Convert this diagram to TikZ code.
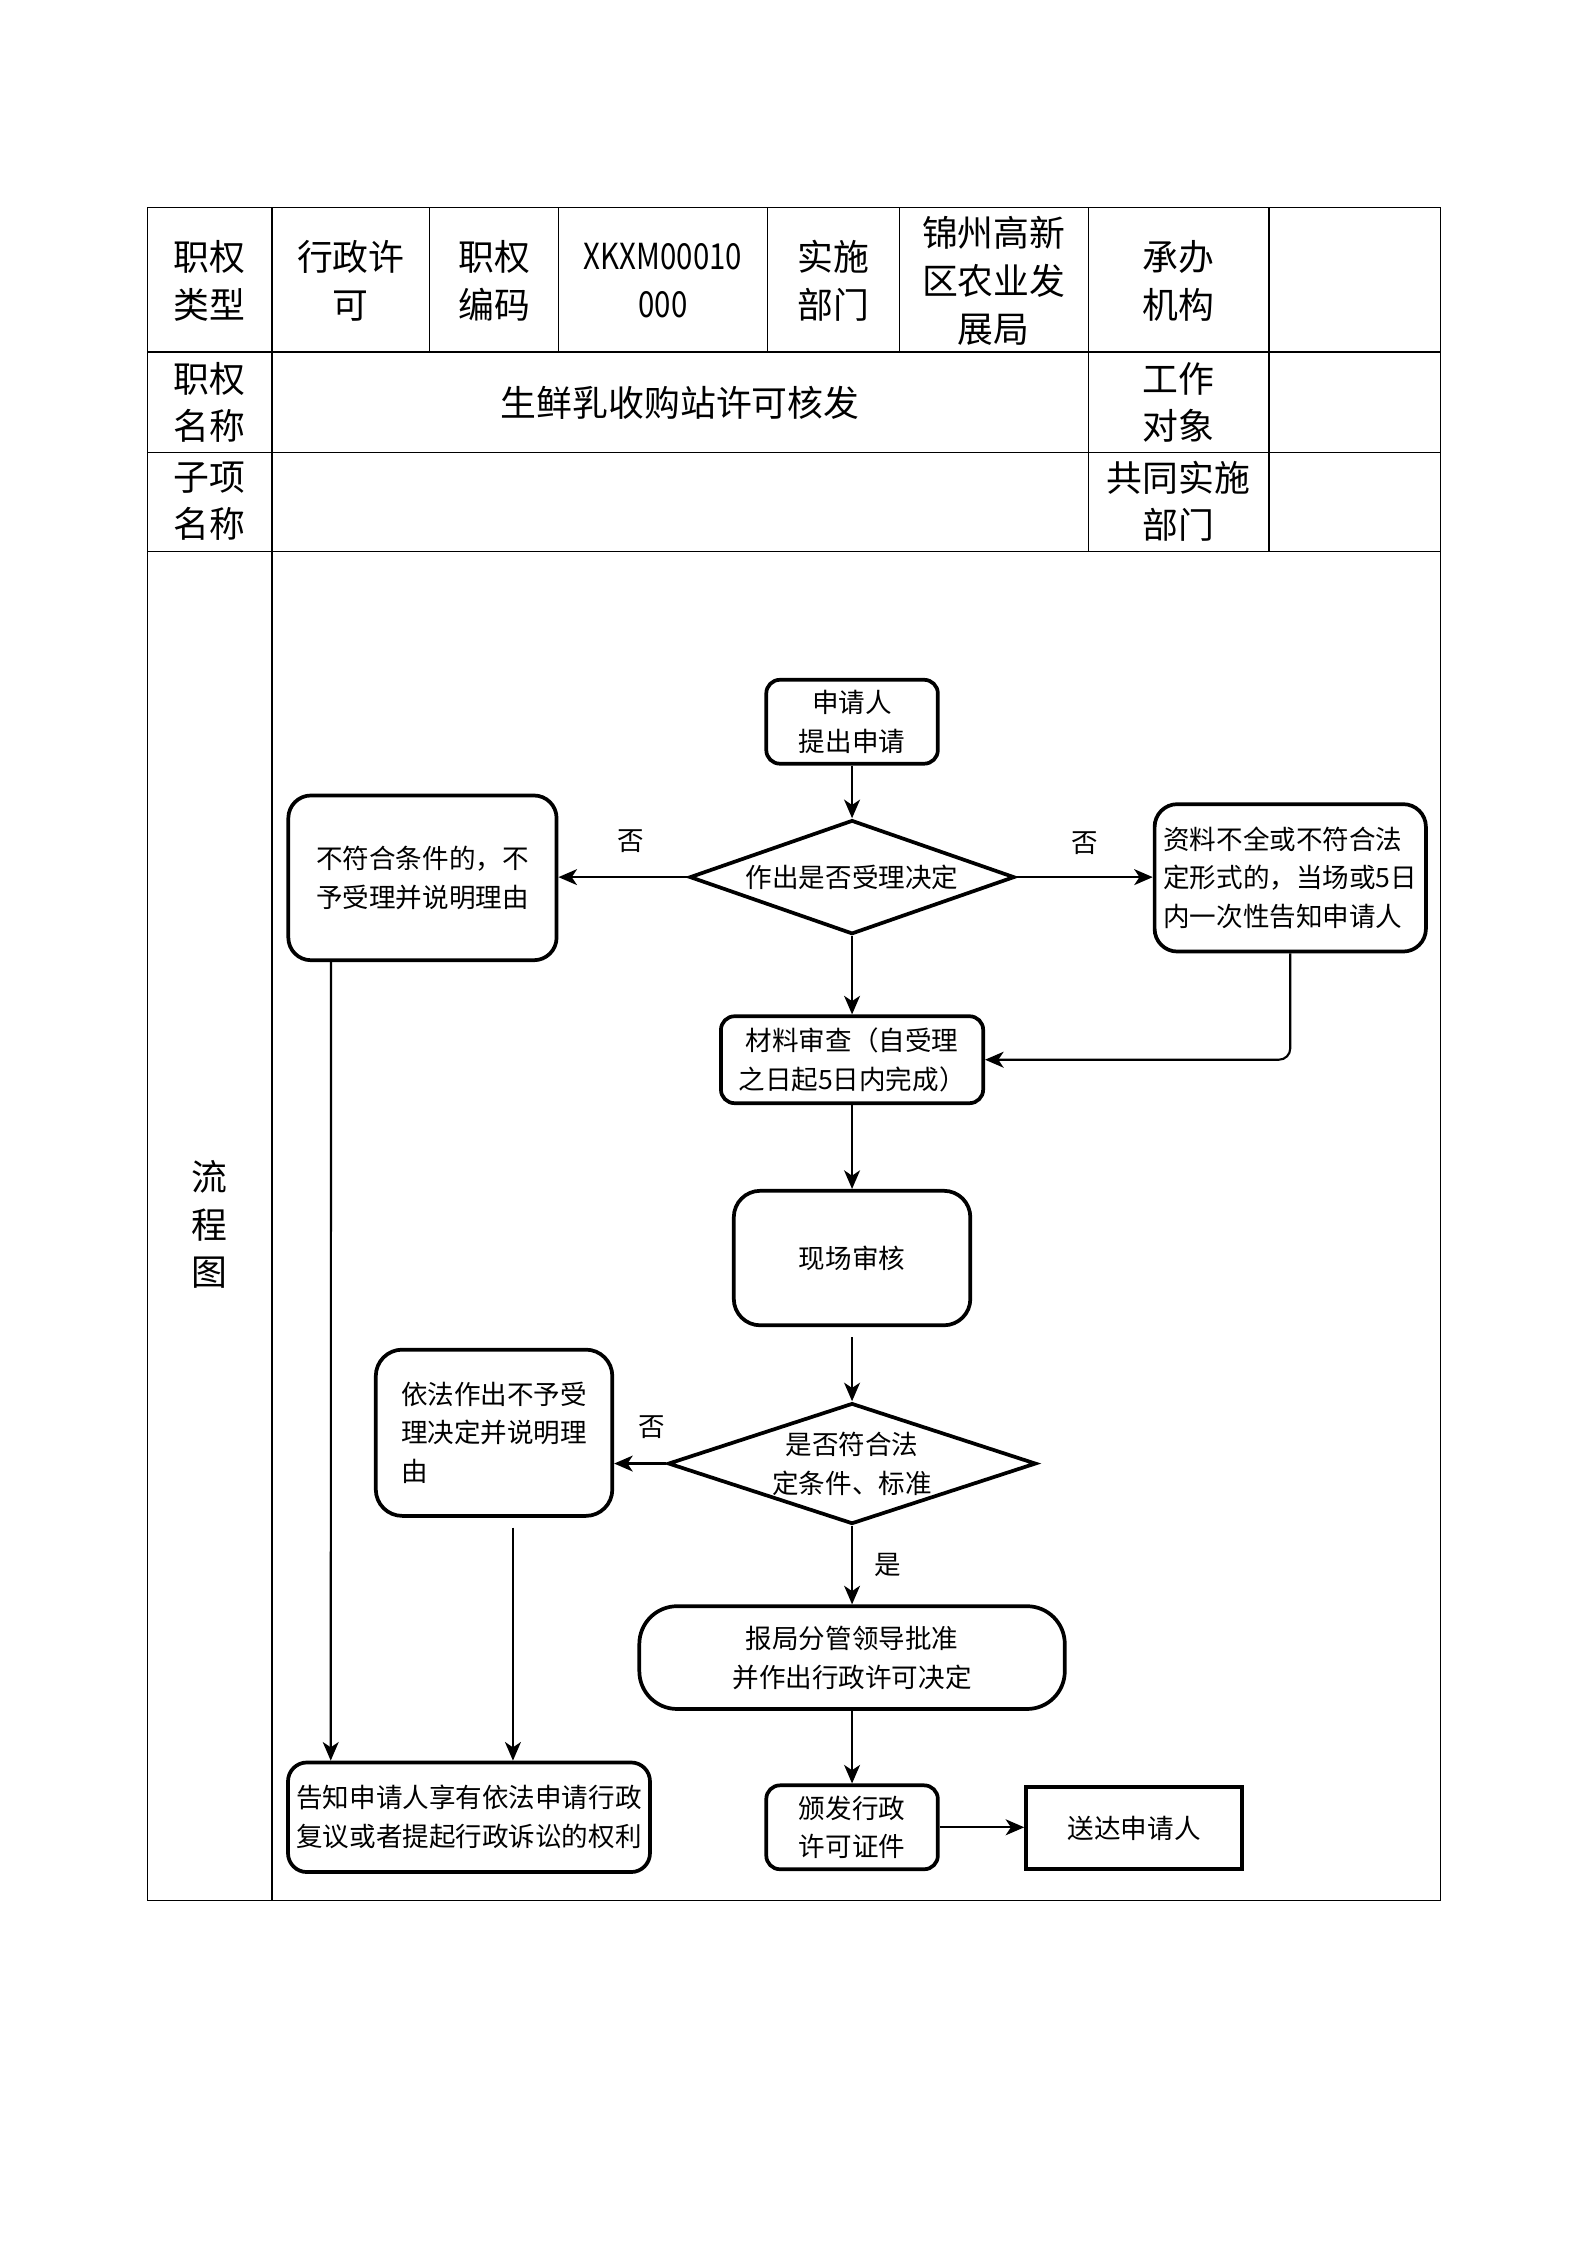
\documentclass[tikz,border=0pt]{standalone}
\usepackage{fontspec}
\setmainfont{Noto Sans CJK SC}
\usetikzlibrary{shapes.geometric,arrows.meta}

\begin{document}
\begin{tikzpicture}[x=0.1895mm, y=-0.1895mm,
  tab/.style={line width=0.6pt},
  cell/.style={font=\fontsize{13.5}{18}\selectfont, align=center, inner sep=0pt},
  box/.style={draw, line width=1.4pt, rounded corners=2.2mm, align=center, inner sep=0pt,
    font=\fontsize{10}{14.6}\selectfont},
  choice/.style={draw, diamond, line width=1.4pt, align=center, inner sep=0pt,
    font=\fontsize{10}{14.6}\selectfont},
  line/.style={line width=0.8pt, -{Stealth[length=7pt,width=6pt,inset=2pt]}},
  tag/.style={font=\fontsize{10}{12}\selectfont, inner sep=0pt}
  ]
  \useasboundingbox[fill=white] (0,0) rectangle (1108.3,1567.7);

  \draw[tab] (103,145) rectangle (1006,1327);
  \foreach \y in {246,316,385} \draw[tab] (103,\y) -- (1006,\y);
  \foreach \x in {300,390,536,628} \draw[tab] (\x,145) -- (\x,246);
  \foreach \x in {760,886} \draw[tab] (\x,145) -- (\x,385);
  \draw[tab] (190,145) -- (190,1327);

  \node[cell] (kind)   at (146.5,196) {职权\\类型};
  \node[cell] (kindv)  at (245,196)   {行政许\\可};
  \node[cell] (code)   at (345,196)   {职权\\编码};
  \node[cell] (codev)  at (463,196)   {\addfontfeatures{FakeStretch=0.82}XKXM00010\\\addfontfeatures{FakeStretch=0.82}000};
  \node[cell] (dept)   at (582,196)   {实施\\部门};
  \node[cell] (deptv)  at (694,196)   {锦州高新\\区农业发\\展局};
  \node[cell] (org)    at (823,196)   {承办\\机构};
  \node[cell] (name)   at (146.5,281) {职权\\名称};
  \node[cell] (namev)  at (475,281)   {生鲜乳收购站许可核发};
  \node[cell] (target) at (823,281)   {工作\\对象};
  \node[cell] (sub)    at (146.5,350) {子项\\名称};
  \node[cell] (joint)  at (823,350)   {共同实施\\部门};
  \node[cell] (flow)   at (146.5,855) {流\\程\\图};

  \node[box, minimum width=22.7mm, minimum height=11.1mm, rounded corners=1.8mm] (start) at (595,504) {申请人\\提出申请};
  \node[choice, aspect=2.85, minimum width=43mm, minimum height=15.1mm] (accept) at (595,612.5) {作出是否受理决定};
  \node[box, minimum width=35.5mm, minimum height=21.8mm, rounded corners=3mm, align=left] (reject) at (295,613) {不符合条件的，不\\予受理并说明理由};
  \node[box, minimum width=35.9mm, minimum height=19.5mm, rounded corners=3mm, align=left] (notice) at (901,613) {资料不全或不符合法\\定形式的，当场或5日\\内一次性告知申请人};
  \node[box, minimum width=34.7mm, minimum height=11.5mm, rounded corners=1.8mm] (review) at (595,740) {材料审查（自受理\\之日起5日内完成）};
  \node[box, minimum width=31.3mm, minimum height=17.8mm, rounded corners=3.5mm] (site) at (595,878.5) {现场审核};
  \node[box, minimum width=31.3mm, minimum height=22mm, rounded corners=3.5mm, align=left] (deny) at (345,1000.5) {依法作出不予受\\理决定并说明理\\由};
  \node[choice, aspect=3.04, minimum width=48.7mm, minimum height=16mm] (check) at (595,1022) {是否符合法\\定条件、标准};
  \node[box, minimum width=56.3mm, minimum height=13.6mm, rounded corners=5mm] (approve) at (595,1157.5) {报局分管领导批准\\并作出行政许可决定};
  \node[box, minimum width=22.7mm, minimum height=11.1mm, rounded corners=1.8mm] (issue) at (595,1276) {颁发行政\\许可证件};
  \node[box, minimum width=28.6mm, minimum height=10.9mm, rounded corners=0pt] (deliver) at (792,1276.5) {送达申请人};
  \node[box, minimum width=47.9mm, minimum height=14.5mm, rounded corners=2.5mm] (inform) at (327.5,1269) {告知申请人享有依法申请行政\\复议或者提起行政诉讼的权利};

  \draw[line] (start) -- (accept);
  \draw[line] (accept.west) -- node[tag, midway, above=3.1mm, xshift=1mm] {否} (accept.west -| reject.east);
  \draw[line] (accept.east) -- node[tag, midway, above=2.9mm] {否} (accept.east -| notice.west);
  \draw[line] (accept) -- (review);
  \draw[line, rounded corners=1.5mm] (notice.south) |- (review.east);
  \draw[line] (review) -- (site);
  \draw[line, shorten <=1.3mm] (site) -- (check);
  \draw[line] (check.west) -- node[tag, midway, above=3.2mm, xshift=1.5mm] {否} (check.west -| deny.east);
  \draw[line] (check) -- node[tag, midway, right=2.8mm] {是} (approve);
  \draw[line] (approve) -- (issue);
  \draw[line] (issue.east) -- (issue.east -| deliver.west);
  \draw[line] ([xshift=5.9mm]reject.south west) -- ([xshift=5.9mm]inform.north west);
  \draw[line, shorten <=1.3mm] ([xshift=2.5mm]deny.south) -- ([xshift=2.5mm]deny.south |- inform.north);
\end{tikzpicture}
\end{document}
